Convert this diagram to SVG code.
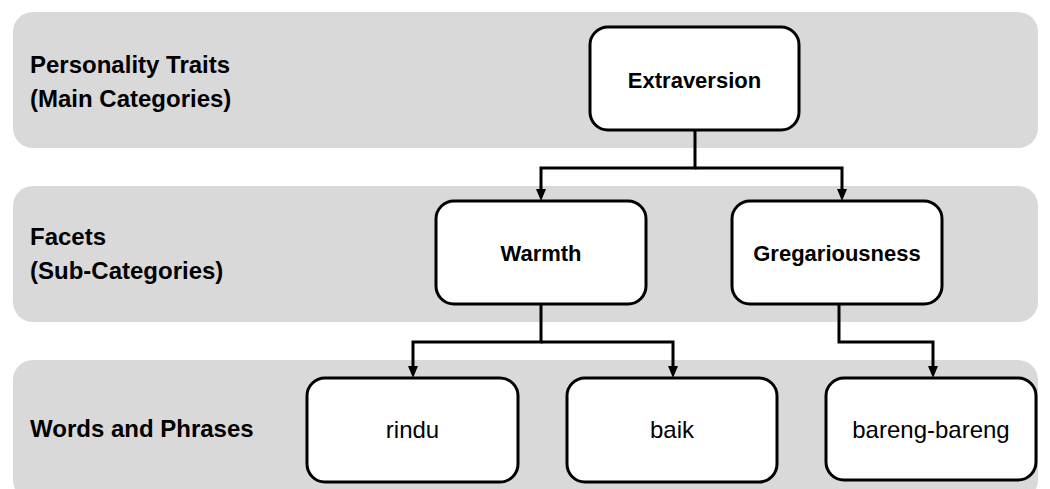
<svg xmlns="http://www.w3.org/2000/svg" width="1050" height="489" viewBox="0 0 1050 489">
  <style>
    .band { fill: #d9d9d9; }
    .label { font-family: "Liberation Sans", Arial, sans-serif; font-weight: bold; font-size: 24px; fill: #000; }
    .box { fill: #fff; stroke: #000; stroke-width: 3; }
    .title { font-family: "Liberation Sans", Arial, sans-serif; font-weight: bold; font-size: 22px; fill: #000; text-anchor: middle; }
    .word { font-family: "Liberation Sans", Arial, sans-serif; font-size: 24px; fill: #000; text-anchor: middle; }
    .link { fill: none; stroke: #000; stroke-width: 3; stroke-linejoin: miter; }
  </style>
  <defs>
    <marker id="arrow" viewBox="0 0 12 10" refX="1" refY="5" markerWidth="12" markerHeight="10" markerUnits="userSpaceOnUse" orient="auto">
      <path d="M0,0 L12,5 L0,10 z" fill="#000"/>
    </marker>
  </defs>

  <!-- level bands -->
  <g id="bands">
    <rect class="band" x="13" y="12" width="1025" height="136" rx="20"/>
    <rect class="band" x="13" y="186" width="1025" height="136" rx="20"/>
    <rect class="band" x="13" y="360" width="1025" height="140" rx="20"/>
  </g>

  <!-- level labels -->
  <g id="labels">
    <text class="label" x="30" y="73">Personality Traits</text>
    <text class="label" x="30" y="107">(Main Categories)</text>
    <text class="label" x="30" y="245">Facets</text>
    <text class="label" x="30" y="279">(Sub-Categories)</text>
    <text class="label" x="30" y="437">Words and Phrases</text>
  </g>

  <!-- connectors -->
  <g id="connectors">
    <path class="link" d="M695 131 V168 H541 V190" marker-end="url(#arrow)"/>
    <path class="link" d="M695 168 H842 V190" marker-end="url(#arrow)"/>
    <path class="link" d="M541 305 V342 H413 V367" marker-end="url(#arrow)"/>
    <path class="link" d="M541 342 H673 V367" marker-end="url(#arrow)"/>
    <path class="link" d="M839 305 V342 H933 V367" marker-end="url(#arrow)"/>
  </g>

  <!-- nodes -->
  <g id="extraversion">
    <rect class="box" x="590" y="27" width="209" height="103" rx="18"/>
    <text class="title" x="694.5" y="88">Extraversion</text>
  </g>
  <g id="warmth">
    <rect class="box" x="436" y="201" width="210" height="103" rx="18"/>
    <text class="title" x="541" y="261">Warmth</text>
  </g>
  <g id="gregariousness">
    <rect class="box" x="732" y="201" width="210" height="103" rx="18"/>
    <text class="title" x="837" y="261">Gregariousness</text>
  </g>
  <g id="rindu">
    <rect class="box" x="307" y="378" width="211" height="104" rx="18"/>
    <text class="word" x="412.5" y="438">rindu</text>
  </g>
  <g id="baik">
    <rect class="box" x="567" y="378" width="210" height="104" rx="18"/>
    <text class="word" x="672" y="438">baik</text>
  </g>
  <g id="bareng-bareng">
    <rect class="box" x="826" y="378" width="210" height="102" rx="18"/>
    <text class="word" x="931" y="438">bareng-bareng</text>
  </g>
</svg>
